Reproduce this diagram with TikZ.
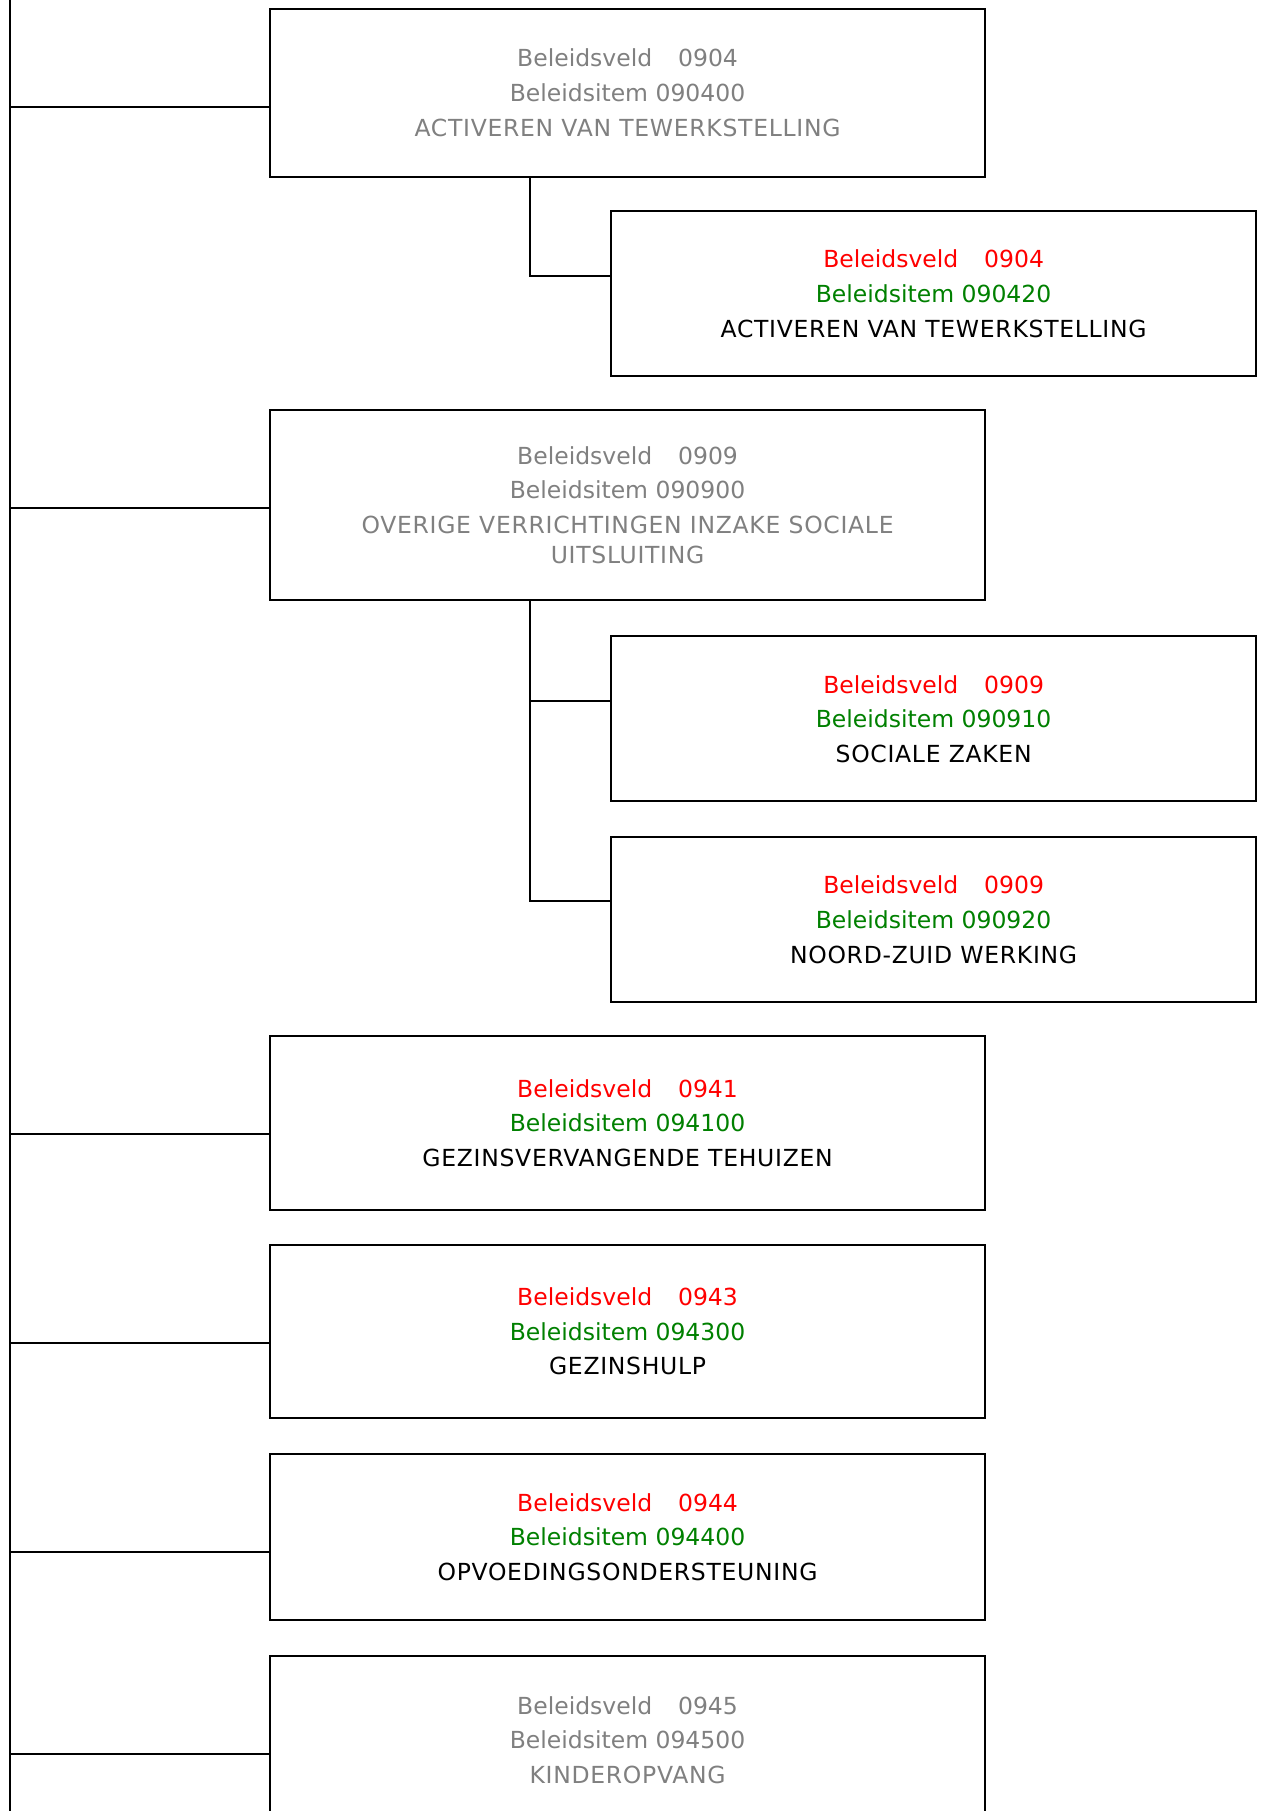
\documentclass[tikz,border=0pt]{standalone}
\usepackage{fontspec}
\setmainfont{DejaVu Sans}
\newfontfamily\capsfont[LetterSpace=3]{DejaVu Sans}
\usetikzlibrary{calc}
\definecolor{veldred}{RGB}{255,0,0}
\definecolor{itemgreen}{RGB}{0,128,0}
\definecolor{fadegrey}{RGB}{128,128,128}
\tikzset{
  itembox/.style={draw, line width=2pt, anchor=north west, align=center, inner sep=0pt,
    font=\fontsize{23.5}{34.6}\selectfont},
  parentbox/.style={itembox, minimum width=714.9pt},
  childbox/.style={itembox, minimum width=645.6pt, minimum height=165.2pt},
  faded/.style={text=fadegrey},
  link/.style={line width=2pt}
}
\begin{document}
\begin{tikzpicture}[x=1.155pt, y=-1.155pt]
  \useasboundingbox (0,0) rectangle (1094.4,1568);
  \node[parentbox, faded, minimum height=167.5pt] (p0904) at (233,7)
    {Beleidsveld\hspace{1.1em}0904\\Beleidsitem 090400\\{\capsfont ACTIVEREN VAN TEWERKSTELLING}};
  \node[childbox] (c090420) at (528,182)
    {\textcolor{veldred}{Beleidsveld\hspace{1.1em}0904}\\\textcolor{itemgreen}{Beleidsitem 090420}\\{\capsfont ACTIVEREN VAN TEWERKSTELLING}};
  \node[parentbox, faded, minimum height=190.6pt] (p0909) at (233,354)
    {Beleidsveld\hspace{1.1em}0909\\Beleidsitem 090900\\{\capsfont OVERIGE VERRICHTINGEN INZAKE SOCIALE}\\[-4.6pt]{\capsfont UITSLUITING}};
  \node[childbox] (c090910) at (528,550)
    {\textcolor{veldred}{Beleidsveld\hspace{1.1em}0909}\\\textcolor{itemgreen}{Beleidsitem 090910}\\{\capsfont SOCIALE ZAKEN}};
  \node[childbox] (c090920) at (528,724)
    {\textcolor{veldred}{Beleidsveld\hspace{1.1em}0909}\\\textcolor{itemgreen}{Beleidsitem 090920}\\{\capsfont NOORD-ZUID WERKING}};
  \node[parentbox, minimum height=174.4pt] (p0941) at (233,896)
    {\textcolor{veldred}{Beleidsveld\hspace{1.1em}0941}\\\textcolor{itemgreen}{Beleidsitem 094100}\\{\capsfont GEZINSVERVANGENDE TEHUIZEN}};
  \node[parentbox, minimum height=173.3pt] (p0943) at (233,1077)
    {\textcolor{veldred}{Beleidsveld\hspace{1.1em}0943}\\\textcolor{itemgreen}{Beleidsitem 094300}\\{\capsfont GEZINSHULP}};
  \node[parentbox, minimum height=166.3pt] (p0944) at (233,1258)
    {\textcolor{veldred}{Beleidsveld\hspace{1.1em}0944}\\\textcolor{itemgreen}{Beleidsitem 094400}\\{\capsfont OPVOEDINGSONDERSTEUNING}};
  \node[parentbox, faded, minimum height=167.5pt] (p0945) at (233,1433)
    {Beleidsveld\hspace{1.1em}0945\\Beleidsitem 094500\\{\capsfont KINDEROPVANG}};

  % trunk on the left
  \coordinate (trunktop) at (9,0);
  \coordinate (trunkbot) at (9,1568);
  \draw[link] (trunktop) -- (trunkbot);
  \foreach \p in {p0904,p0909,p0941,p0943,p0944,p0945}
    \draw[link] ($(\p.north west)+(0,86)$) -- (trunktop |- {$(\p.north west)+(0,86)$});

  % children
  \draw[link] ($(p0904.south west)+(226,0)$) |- ($(c090420.north west)+(0,57)$);
  \draw[link] ($(p0909.south west)+(226,0)$) |- ($(c090910.north west)+(0,57)$);
  \draw[link] ($(p0909.south west)+(226,0)$) |- ($(c090920.north west)+(0,56)$);
\end{tikzpicture}
\end{document}
